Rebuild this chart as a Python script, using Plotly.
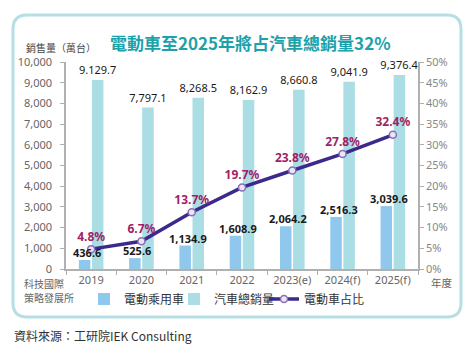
import plotly.graph_objects as go

# ---- data ----
years = ["2019", "2020", "2021", "2022", "2023(e)", "2024(f)", "2025(f)"]
ev_sales = [436.6, 525.6, 1134.9, 1608.9, 2064.2, 2516.3, 3039.6]
total_sales = [9129.7, 7797.1, 8268.5, 8162.9, 8660.8, 9041.9, 9376.4]
total_labels = ["9.129.7", "7,797.1", "8,268.5", "8,162.9", "8,660.8", "9,041.9", "9,376.4"]
ev_share = [4.8, 6.7, 13.7, 19.7, 23.8, 27.8, 32.4]

W, H = 474, 347
L, R, T, B = 66, 418, 62, 269  # plot area in pixels


def px(x):
    return (x - L) / (R - L)


def py(y):
    return (B - y) / (B - T)


CJK = "Noto Sans CJK TC"
NUM = "Noto Sans"

fig = go.Figure()

fig.add_trace(go.Bar(
    x=years, y=ev_sales, name="電動乘用車",
    marker=dict(color="#8fc8ec", line=dict(width=0)),
    legendwidth=45,
))
fig.add_trace(go.Bar(
    x=years, y=total_sales, name="汽車總銷量",
    marker=dict(color="#aadde4", line=dict(width=0)),
    text=total_labels, textposition="outside", constraintext="none",
    textfont=dict(family=NUM, size=11, color="#1a1a1a"),
    cliponaxis=False, legendwidth=45,
))
fig.add_trace(go.Scatter(
    x=years, y=ev_share, name="電動車占比", yaxis="y2",
    mode="lines+markers+text",
    line=dict(color="#3b2a8c", width=3.5),
    marker=dict(size=7, color="#ece6f4", line=dict(color="#8a6fb8", width=1.5)),
    text=[f"{v:.1f}%" for v in ev_share], textposition="top center",
    textfont=dict(family=NUM, size=12, color="#a01f66", weight="bold"),
    cliponaxis=False, legendwidth=70,
))

# rounded border box
bx0, bx1, by0, by1, rr = 13, 461, 15, 317, 14
path = (
    f"M {px(bx0 + rr)} {py(by0)} L {px(bx1 - rr)} {py(by0)} "
    f"Q {px(bx1)} {py(by0)} {px(bx1)} {py(by0 + rr)} "
    f"L {px(bx1)} {py(by1 - rr)} Q {px(bx1)} {py(by1)} {px(bx1 - rr)} {py(by1)} "
    f"L {px(bx0 + rr)} {py(by1)} Q {px(bx0)} {py(by1)} {px(bx0)} {py(by1 - rr)} "
    f"L {px(bx0)} {py(by0 + rr)} Q {px(bx0)} {py(by0)} {px(bx0 + rr)} {py(by0)} Z"
)

annotations = [
    dict(text="電動車至2025年將占汽車總銷量32%", x=px(251), y=py(42), xref="paper", yref="paper",
         showarrow=False, font=dict(family=CJK, size=17, color="#1ca2ab", weight="bold"),
         xanchor="center", yanchor="middle"),
    dict(text="銷售量（萬台）", x=px(24), y=py(48), xref="paper", yref="paper",
         showarrow=False, font=dict(family=CJK, size=10, color="#444"),
         xanchor="left", yanchor="middle"),
    dict(text="科技國際", x=px(44), y=py(283), xref="paper", yref="paper",
         showarrow=False, font=dict(family=CJK, size=10, color="#666"),
         xanchor="center", yanchor="middle"),
    dict(text="策略發展所", x=px(49), y=py(297), xref="paper", yref="paper",
         showarrow=False, font=dict(family=CJK, size=10, color="#666"),
         xanchor="center", yanchor="middle"),
    dict(text="年度", x=px(429), y=py(282), xref="paper", yref="paper",
         showarrow=False, font=dict(family=CJK, size=10.5, color="#666"),
         xanchor="left", yanchor="middle"),
    dict(text="資料來源：工研院IEK Consulting", x=px(12), y=py(335), xref="paper", yref="paper",
         showarrow=False, font=dict(family=CJK, size=12, color="#333"),
         xanchor="left", yanchor="middle"),
]

# EV value labels drawn above the total bars (as annotations, x = category index)
for i, v in enumerate(ev_sales):
    annotations.append(dict(
        text=f"{v:,.1f}", x=i, y=v, xref="x", yref="y", showarrow=False,
        xanchor="center", yanchor="bottom", xshift=-4, yshift=-2,
        font=dict(family=NUM, size=11, color="#1a1a1a", weight="bold"),
    ))

fig.update_layout(
    width=W, height=H,
    margin=dict(l=L, r=W - R, t=T, b=H - B, autoexpand=False),
    paper_bgcolor="white", plot_bgcolor="white",
    barmode="group", bargap=0.48, bargroupgap=0.12,
    showlegend=True,
    legend=dict(orientation="h", x=px(84), xanchor="left", y=py(299), yanchor="middle",
                font=dict(family=CJK, size=12, color="#333"),
                bgcolor="rgba(0,0,0,0)"),
    xaxis=dict(type="category", range=[-0.5, len(years) - 0.5], showline=True,
               linecolor="#b0b0b0", linewidth=1.5,
               ticks="outside", tickson="boundaries", ticklen=4, tickcolor="#b0b0b0",
               tickfont=dict(family=NUM, size=11, color="#666"), showgrid=False, zeroline=False),
    yaxis=dict(range=[0, 10000], dtick=1000, tickformat=",", showline=True, linecolor="#b0b0b0",
               linewidth=1.5, ticks="outside", ticklen=4, tickcolor="#b0b0b0", ticklabelstandoff=6,
               tickfont=dict(family=NUM, size=11, color="#666"), showgrid=False, zeroline=False),
    yaxis2=dict(range=[0, 50], dtick=5, ticksuffix="%", overlaying="y", side="right",
                showline=True, linecolor="#b0b0b0", linewidth=1.5, ticks="outside", ticklen=4,
                tickcolor="#b0b0b0", tickfont=dict(family=NUM, size=11, color="#888"),
                showgrid=False, zeroline=False),
    shapes=[dict(type="path", path=path, xref="paper", yref="paper",
                 line=dict(color="#b6dfe4", width=3), layer="below")],
    annotations=annotations,
)

fig.write_html("out.html")
